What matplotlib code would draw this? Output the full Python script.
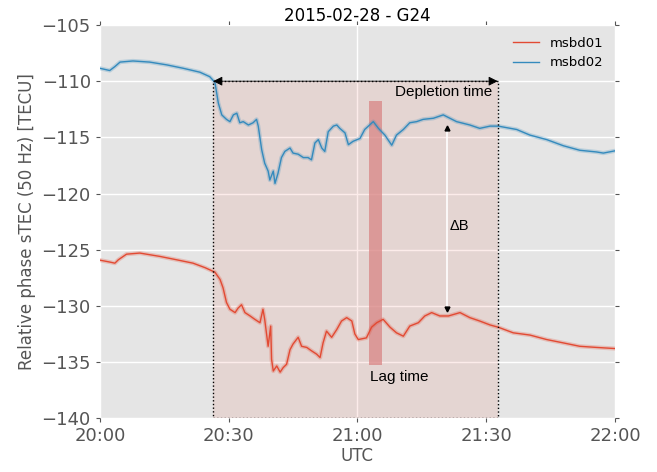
import matplotlib
matplotlib.use('Agg')
import matplotlib.pyplot as plt
from matplotlib.patches import Rectangle
from matplotlib.ticker import FixedLocator, FixedFormatter

# minutes after 20:00 UTC and relative phase sTEC [TECU]
t_msbd02 = [0, 2.3, 3.5, 4.7, 7.7, 11.6, 15.6, 19.4, 23.3, 25.6, 26.8, 27.6, 28.4, 29.5,
            30.3, 31.1, 31.9, 32.6, 33.4, 34.6, 35.7, 36.5, 36.9, 37.7, 38.4, 39.2, 39.6,
            40.4, 40.8, 41.5, 42.3, 43.1, 44.3, 45.0, 46.2, 47.4, 48.5, 49.3, 50.1, 50.9,
            51.7, 52.4, 53.2, 54.4, 55.2, 55.9, 57.1, 57.9, 59.0, 60.6, 61.7, 63.7, 64.9,
            66.4, 68.0, 69.1, 70.7, 72.2, 73.8, 75.3, 77.7, 80.0, 83.1, 86.2, 88.5, 90.9,
            92.8, 97.1, 100.2, 104.1, 108.0, 111.8, 115.7, 117.3, 120]
v_msbd02 = [-108.85, -109.05, -108.7, -108.3, -108.2, -108.3, -108.55, -108.85, -109.2,
            -109.6, -110.1, -111.95, -113.0, -113.4, -113.6, -113.0, -112.85, -113.7,
            -113.6, -113.9, -113.7, -113.4, -114.0, -116.1, -117.3, -118.0, -118.8,
            -118.0, -119.1, -118.2, -116.8, -116.25, -115.95, -116.4, -116.5, -116.8,
            -116.8, -117.0, -115.5, -115.2, -115.95, -116.25, -114.5, -114.0, -113.9,
            -114.2, -114.6, -115.65, -115.35, -115.1, -114.3, -113.6, -114.2, -114.8,
            -115.7, -114.8, -114.3, -113.7, -113.6, -113.4, -113.3, -113.0, -113.6,
            -113.9, -114.2, -114.0, -114.0, -114.3, -114.8, -115.2, -115.75, -116.15,
            -116.3, -116.4, -116.2]

t_msbd01 = [0, 2.3, 3.5, 4.3, 6.2, 9.3, 14.0, 17.9, 21.7, 24.5, 26.8, 28.0, 28.7, 29.5,
            30.3, 31.5, 32.2, 33.0, 33.8, 35.0, 36.1, 37.3, 38.0, 38.4, 39.2, 39.8, 40.0,
            40.4, 41.2, 42.0, 42.7, 43.5, 44.3, 45.0, 46.2, 47.0, 48.2, 49.3, 50.5, 51.3,
            52.0, 52.8, 54.0, 55.2, 56.3, 57.5, 58.7, 59.4, 60.2, 62.1, 63.3, 64.5, 66.0,
            67.6, 69.1, 70.7, 72.2, 74.2, 75.7, 77.3, 79.2, 81.2, 83.9, 86.2, 88.5, 90.9,
            92.8, 96.3, 100.2, 104.1, 108.0, 111.8, 115.7, 120]
v_msbd01 = [-125.93, -126.1, -126.2, -125.9, -125.4, -125.3, -125.6, -125.9, -126.2,
            -126.6, -127.0, -127.65, -128.4, -129.7, -130.3, -130.6, -130.2, -129.9,
            -130.6, -130.9, -131.2, -131.5, -130.3, -131.2, -133.6, -131.8, -134.75,
            -135.8, -135.35, -135.9, -135.5, -135.2, -133.9, -133.4, -132.8, -133.6,
            -133.7, -134.0, -134.3, -134.6, -133.3, -132.25, -132.8, -132.1, -131.35,
            -131.05, -131.35, -132.5, -133.0, -132.85, -131.9, -131.5, -131.2, -131.9,
            -132.4, -132.7, -131.8, -131.5, -130.9, -130.6, -130.9, -130.9, -130.6,
            -131.05, -131.35, -131.7, -131.9, -132.4, -132.6, -133.0, -133.3, -133.6,
            -133.7, -133.8]

hour_ticks = [0, 60, 120]
hour_labels = ['20:00', '21:00', '22:00']
half_ticks = [30, 90]
half_labels = ['20:30', '21:30']
y_ticks = [-140, -135, -130, -125, -120, -115, -110, -105]

# depletion window, lag-time bar and delta-B marker
depletion_start, depletion_end, depletion_top = 26.4, 92.7, -110.0
lag_start, lag_end, lag_top, lag_bottom = 62.7, 65.7, -111.8, -135.3
delta_b_time, delta_b_top, delta_b_bottom = 80.9, -114.2, -130.3

RED = '#E24A33'
BLUE = '#348ABD'
GREY = '#555555'

plt.style.use('ggplot')
fig = plt.figure(figsize=(6.57, 4.72), dpi=100)
ax = fig.add_axes([0.152, 0.114, 0.784, 0.833])
ax.set_facecolor('#E5E5E5')

ax.set_xlim(0, 120)
ax.set_ylim(-140, -105)

# shaded depletion box with dotted border
ax.add_patch(Rectangle((depletion_start, -140), depletion_end - depletion_start,
                       depletion_top + 140, facecolor=RED, alpha=0.1,
                       edgecolor='none', zorder=1))
ax.add_patch(Rectangle((depletion_start, -140), depletion_end - depletion_start,
                       depletion_top + 140, facecolor='none', edgecolor='black',
                       linestyle=':', linewidth=1.0, zorder=4))

# lag time bar
ax.add_patch(Rectangle((lag_start, lag_bottom), lag_end - lag_start, lag_top - lag_bottom,
                       facecolor='#D98585', alpha=0.75, edgecolor='none', zorder=1.5))

# curves with a soft halo
ax.plot(t_msbd01, v_msbd01, color=RED, lw=3, alpha=0.25, zorder=2)
ax.plot(t_msbd02, v_msbd02, color=BLUE, lw=3, alpha=0.25, zorder=2)
ax.plot(t_msbd01, v_msbd01, color=RED, lw=1.0, label='msbd01', zorder=3)
ax.plot(t_msbd02, v_msbd02, color=BLUE, lw=1.0, label='msbd02', zorder=3)

# depletion time arrow
ax.annotate('', xy=(depletion_start, depletion_top), xytext=(depletion_end, depletion_top),
            arrowprops=dict(arrowstyle='<|-|>', color='black', lw=0.6,
                            mutation_scale=14, shrinkA=0, shrinkB=0), zorder=5)
ax.text(depletion_end - 1.3, depletion_top - 1.0, 'Depletion time', ha='right', va='center',
        fontsize=11, family='Liberation Sans', color='black')

# delta B marker
ax.plot([delta_b_time, delta_b_time], [delta_b_top, delta_b_bottom], color='white',
        lw=1.2, zorder=2.5)
ax.plot(delta_b_time, delta_b_top, marker='^', color='black', ms=3.5, zorder=5)
ax.plot(delta_b_time, delta_b_bottom, marker='v', color='black', ms=3.5, zorder=5)
ax.text(delta_b_time + 2.8, -122.9, 'ΔB', ha='center', va='center', fontsize=10.5,
        family='Liberation Sans', color='black')

ax.text(lag_start + 0.2, -136.3, 'Lag time', ha='left', va='center', fontsize=11,
        family='Liberation Sans', color='black')

# hour ticks carry the grid, half hours only labels
ax.xaxis.set_major_locator(FixedLocator(hour_ticks))
ax.xaxis.set_major_formatter(FixedFormatter(hour_labels))
ax.xaxis.set_minor_locator(FixedLocator(half_ticks))
ax.xaxis.set_minor_formatter(FixedFormatter(half_labels))
ax.set_yticks(y_ticks)

ax.grid(True, which='major', color='white', linewidth=1.0)
ax.grid(False, which='minor')
ax.tick_params(axis='both', which='both', direction='out', length=3, width=0.8,
               color=GREY, labelcolor=GREY, labelsize=13, top=True, right=True)
for side in ax.spines.values():
    side.set_visible(False)

ax.set_xlabel('UTC', fontsize=12, color=GREY, labelpad=1)
ax.set_ylabel('Relative phase sTEC (50 Hz) [TECU]', fontsize=12, color=GREY, labelpad=4)
ax.set_title('2015-02-28 - G24', fontsize=12, color='black', pad=3)

leg = ax.legend(loc='upper right', frameon=False, fontsize=9.5, handlelength=2.0)

fig.savefig('out.png', dpi=100)
